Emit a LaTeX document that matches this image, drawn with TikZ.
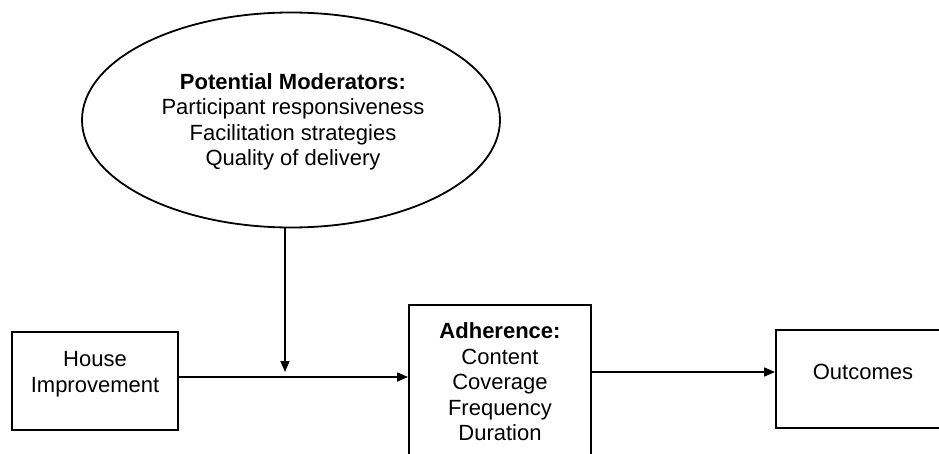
\documentclass[tikz,border=0pt]{standalone}
\usepackage{fontspec}
\setmainfont{Liberation Sans}
\usetikzlibrary{shapes.geometric,arrows.meta}
\begin{document}
\begin{tikzpicture}[x=1pt,y=-1pt,
  every node/.style={font=\fontsize{22}{25.5}\selectfont},
  boxnode/.style={draw=black,line width=1.9pt,rectangle,inner sep=0pt},
  txt/.style={align=center,inner sep=0pt},
  arr/.style={line width=1.6pt,-{Triangle[length=11pt,width=9pt]}}]
\useasboundingbox (0,0) rectangle (939,454);
\clip (0,0) rectangle (939,454);
\fill[white] (0,0) rectangle (939,454);
% moderators ellipse
\node[ellipse,draw=black,line width=1.8pt,minimum width=418pt,minimum height=215pt,inner sep=0pt] (mod) at (291,120) {};
\node[txt] (modtxt) at (293,122) {\textbf{Potential Moderators:}\\Participant responsiveness\\Facilitation strategies\\Quality of delivery};
% boxes
\node[boxnode,minimum width=166pt,minimum height=98pt] (house) at (95,381) {};
\node[txt] (housetxt) at (95,374) {House\\Improvement};
\node[boxnode,minimum width=182pt,minimum height=175pt] (adh) at (500,392.5) {};
\node[txt] (adhtxt) at (500,382) {\textbf{Adherence:}\\Content\\Coverage\\Frequency\\Duration};
\node[boxnode,minimum width=174pt,minimum height=98pt] (out) at (863,379) {};
\node[txt] (outtxt) at (863,372) {Outcomes};
% connectors
\coordinate (hy) at (0,377);
\coordinate (oy) at (0,372);
\coordinate (vtip) at (285,372);
\draw[arr] (house.east |- hy) -- (adh.west |- hy);
\draw[arr] (adh.east |- oy) -- (out.west |- oy);
\draw[arr] (mod.south -| vtip) -- (vtip);
\end{tikzpicture}
\end{document}
